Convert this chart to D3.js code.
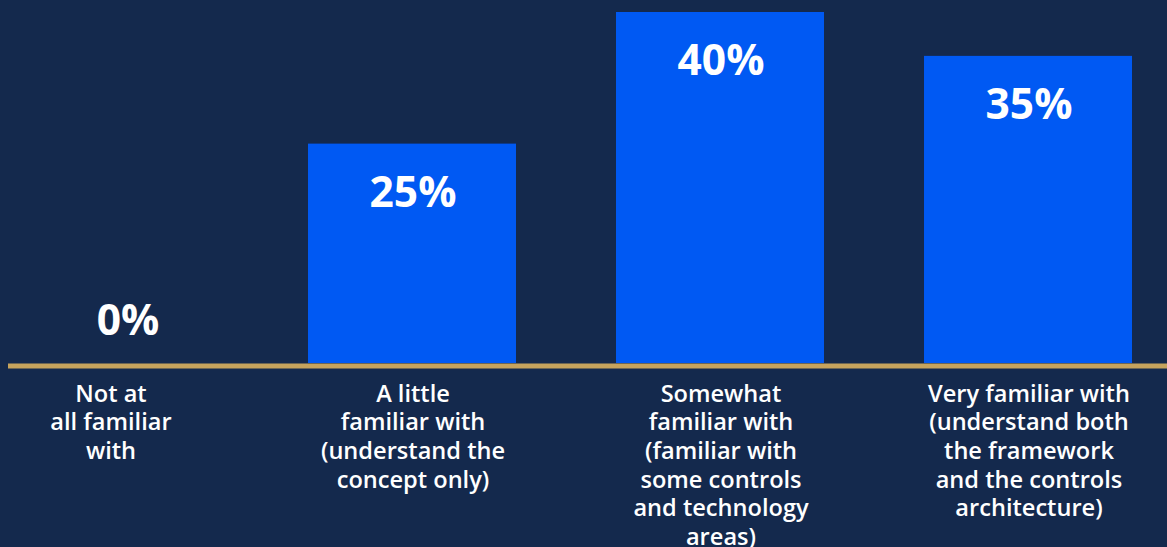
<!DOCTYPE html>
<html>
<head>
<meta charset="utf-8">
<script src="https://cdn.jsdelivr.net/npm/d3@7"></script>
<style>
  html, body { margin: 0; padding: 0; background: #14294d; overflow: hidden; }
  svg { display: block; }
</style>
</head>
<body>
<svg id="chart" width="1167" height="547"></svg>
<script>
// Familiarity levels, each label split into its display lines
const categories = [
  "Not at all familiar with",
  "A little familiar with (understand the concept only)",
  "Somewhat familiar with (familiar with some controls and technology areas)",
  "Very familiar with (understand both the framework and the controls architecture)"
];
const categoryLines = [
  ["Not at", "all familiar", "with"],
  ["A little", "familiar with", "(understand the", "concept only)"],
  ["Somewhat", "familiar with", "(familiar with", "some controls", "and technology", "areas)"],
  ["Very familiar with", "(understand both", "the framework", "and the controls", "architecture)"]
];
const values = [0, 25, 40, 35];

const W = 1167, H = 547;
const baseY = 363;

const svg = d3.select("#chart");

svg.append("rect").attr("width", W).attr("height", H).attr("fill", "#14294d");

const x = d3.scaleBand()
  .domain(categories)
  .range([0, 1132])
  .paddingInner(0.3247)
  .paddingOuter(0);

const y = d3.scaleLinear()
  .domain([0, 40])
  .range([baseY, 12]);

const rows = categories.map((c, i) => ({ cat: c, value: values[i], lines: categoryLines[i] }));

// Bars
svg.append("g").selectAll("rect")
  .data(rows)
  .join("rect")
  .attr("x", d => x(d.cat))
  .attr("y", d => y(d.value))
  .attr("width", x.bandwidth())
  .attr("height", d => baseY - y(d.value))
  .attr("fill", "#0059f3");

// Baseline
svg.append("line")
  .attr("x1", 8).attr("x2", W)
  .attr("y1", baseY + 3).attr("y2", baseY + 3)
  .attr("stroke", "#c6a35d")
  .attr("stroke-width", 5);

// Value labels: inside the bar top, or above the baseline for an empty bar
svg.append("g").selectAll("text")
  .data(rows)
  .join("text")
  .attr("x", d => x(d.cat) + x.bandwidth() / 2 + (d.value === 0 ? 24 : 1))
  .attr("y", d => d.value === 0 ? baseY - 28 : y(d.value) + 63)
  .attr("text-anchor", "middle")
  .attr("font-family", "'Open Sans', sans-serif")
  .attr("font-weight", 700)
  .attr("font-size", 42.5)
  .attr("fill", "#ffffff")
  .text(d => d.value + "%");

// Category labels below the baseline
const lab = svg.append("g").selectAll("text")
  .data(rows)
  .join("text")
  .attr("text-anchor", "middle")
  .attr("font-family", "'Open Sans', sans-serif")
  .attr("font-weight", 600)
  .attr("font-size", 23.6)
  .attr("fill", "#ffffff");

lab.selectAll("tspan")
  .data(d => d.lines.map(l => ({ l, cx: x(d.cat) + x.bandwidth() / 2 + (d.value === 0 ? 7 : 1) })))
  .join("tspan")
  .attr("x", d => d.cx)
  .attr("y", (d, i) => 401.5 + i * 28.7)
  .text(d => d.l);
</script>
</body>
</html>
